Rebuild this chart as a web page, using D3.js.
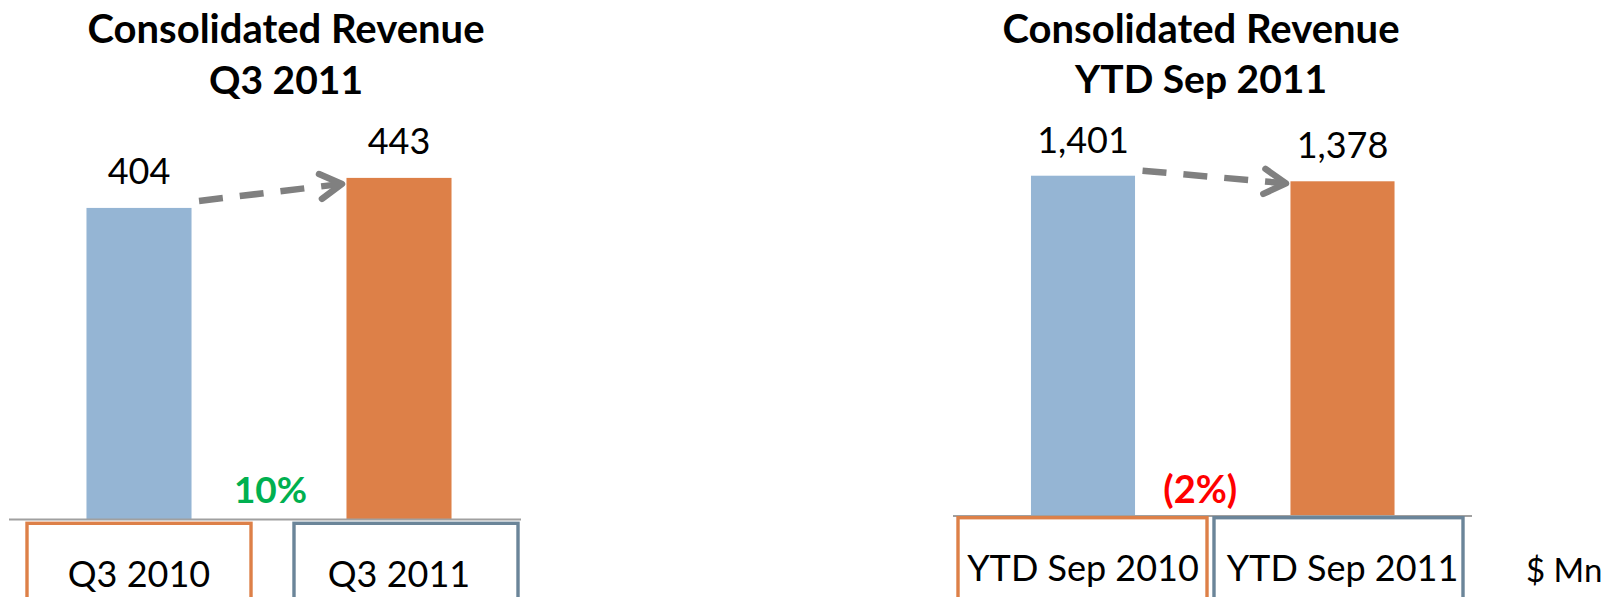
<!DOCTYPE html>
<html>
<head>
<meta charset="utf-8">
<script src="https://cdn.jsdelivr.net/npm/d3@7"></script>
<style>
  html, body { margin: 0; padding: 0; background: #ffffff; overflow: hidden; }
  svg { display: block; }
  text { font-family: Lato, "Open Sans", sans-serif; }
</style>
</head>
<body>
<div id="chart"></div>
<script>
// ---------------- data ----------------
const titleLine1 = "Consolidated Revenue";
const q3TitleLine2 = "Q3 2011";
const ytdTitleLine2 = "YTD Sep 2011";
const q3Categories = ["Q3 2010", "Q3 2011"];
const q3Values = [404, 443];
const q3Change = "10%";
const ytdCategories = ["YTD Sep 2010", "YTD Sep 2011"];
const ytdValues = [1401, 1378];
const ytdChange = "(2%)";
const unitLabel = "$ Mn";

// ---------------- styles ----------------
const barColors = ["#95B5D4", "#DD8048"];
const boxColors = ["#DD8048", "#6B8599"];
const W = 1606, H = 597;

const svg = d3.select("#chart").append("svg")
  .attr("width", W).attr("height", H)
  .attr("viewBox", `0 0 ${W} ${H}`);

const panels = [
  { categories: q3Categories, values: q3Values, change: q3Change, changeColor: "#00B050",
    title2: q3TitleLine2, titleX: 286, title1Y: 43, title2Y: 94,
    yMax: 500, base: 519, yTop: 134,
    bandRange: [9, 529], pad: 0.596,
    axisRange: [9, 521],
    boxRange: [27, 518], boxPad: 0.161, boxTop: 523.3,
    catY: 587, catSize: 36, labelGap: 24,
    changeDx: 1.5, changeY: 503, changeSize: 37,
    arrowDy0: -7, arrowDy1: 6 },
  { categories: ytdCategories, values: ytdValues, change: ytdChange, changeColor: "#FF0000",
    title2: ytdTitleLine2, titleX: 1201, title1Y: 43, title2Y: 93,
    yMax: 1500, base: 515.5, yTop: 151.7,
    bandRange: [953.25, 1472.25], pad: 0.599,
    axisRange: [953, 1472],
    boxRange: [958, 1463], boxPad: 0.0273, boxTop: 517.7,
    catY: 581, catSize: 36, labelGap: 23,
    changeDx: -12.5, changeY: 503, changeSize: 38,
    arrowDy0: -5, arrowDy1: 2 }
];

const fmt = d3.format(",");

panels.forEach(p => {
  const g = svg.append("g");
  const x = d3.scaleBand().domain(p.categories).range(p.bandRange)
    .paddingInner(p.pad).paddingOuter(p.pad / 2);
  const y = d3.scaleLinear().domain([0, p.yMax]).range([p.base, p.yTop]);
  const xb = d3.scaleBand().domain(p.categories).range(p.boxRange)
    .paddingInner(p.boxPad).paddingOuter(0);
  const bw = x.bandwidth();

  // titles
  g.append("text").attr("x", p.titleX).attr("y", p.title1Y)
    .attr("text-anchor", "middle").attr("font-weight", 700).attr("font-size", 40)
    .attr("fill", "#000").text(titleLine1);
  g.append("text").attr("x", p.titleX).attr("y", p.title2Y)
    .attr("text-anchor", "middle").attr("font-weight", 700).attr("font-size", 39)
    .attr("fill", "#000").text(p.title2);

  // bars
  g.selectAll("rect.bar").data(p.values).join("rect").attr("class", "bar")
    .attr("x", (d, i) => x(p.categories[i]))
    .attr("y", d => y(d))
    .attr("width", bw)
    .attr("height", d => y(0) - y(d))
    .attr("fill", (d, i) => barColors[i]);

  // value labels
  g.selectAll("text.val").data(p.values).join("text").attr("class", "val")
    .attr("x", (d, i) => x(p.categories[i]) + bw / 2)
    .attr("y", d => y(d) - p.labelGap)
    .attr("text-anchor", "middle").attr("font-size", 36).attr("fill", "#000")
    .text(d => fmt(d));

  // baseline axis line
  g.append("line")
    .attr("x1", p.axisRange[0]).attr("x2", p.axisRange[1])
    .attr("y1", y(0) + 0.5).attr("y2", y(0) + 0.5)
    .attr("stroke", "#A0A0A0").attr("stroke-width", 2);

  // category boxes
  g.selectAll("rect.box").data(p.categories).join("rect").attr("class", "box")
    .attr("x", d => xb(d)).attr("y", p.boxTop)
    .attr("width", xb.bandwidth()).attr("height", 120)
    .attr("fill", "none")
    .attr("stroke", (d, i) => boxColors[i]).attr("stroke-width", 3.4);

  // category labels
  g.selectAll("text.cat").data(p.categories).join("text").attr("class", "cat")
    .attr("x", d => x(d) + bw / 2).attr("y", p.catY)
    .attr("text-anchor", "middle").attr("font-size", p.catSize).attr("fill", "#000")
    .text(d => d);

  // change label
  const gapMid = (x(p.categories[0]) + bw + x(p.categories[1])) / 2;
  g.append("text").attr("x", gapMid + p.changeDx).attr("y", p.changeY)
    .attr("text-anchor", "middle").attr("font-weight", 700).attr("font-size", p.changeSize)
    .attr("fill", p.changeColor).text(p.change);

  // dashed arrow
  const x0 = x(p.categories[0]) + bw + 7.5, y0 = y(p.values[0]) + p.arrowDy0;
  const x1 = x(p.categories[1]) - 4.5, y1 = y(p.values[1]) + p.arrowDy1;
  const ang = Math.atan2(y1 - y0, x1 - x0);
  const len = Math.hypot(x1 - x0, y1 - y0);
  const shaftEnd = len - 4;
  g.append("line")
    .attr("x1", x0).attr("y1", y0)
    .attr("x2", x0 + Math.cos(ang) * shaftEnd).attr("y2", y0 + Math.sin(ang) * shaftEnd)
    .attr("stroke", "#808080").attr("stroke-width", 6.5)
    .attr("stroke-dasharray", "24 17");
  const armLen = 25, half = 30 * Math.PI / 180;
  const a1 = [x1 - Math.cos(ang - half) * armLen, y1 - Math.sin(ang - half) * armLen];
  const a2 = [x1 - Math.cos(ang + half) * armLen, y1 - Math.sin(ang + half) * armLen];
  g.append("path")
    .attr("d", d3.line()([a1, [x1, y1], a2]))
    .attr("fill", "none").attr("stroke", "#808080").attr("stroke-width", 6.5)
    .attr("stroke-linecap", "round").attr("stroke-linejoin", "round");
});

// unit label
svg.append("text").attr("x", 1526).attr("y", 582)
  .attr("font-size", 33).attr("fill", "#000").text(unitLabel);
</script>
</body>
</html>
